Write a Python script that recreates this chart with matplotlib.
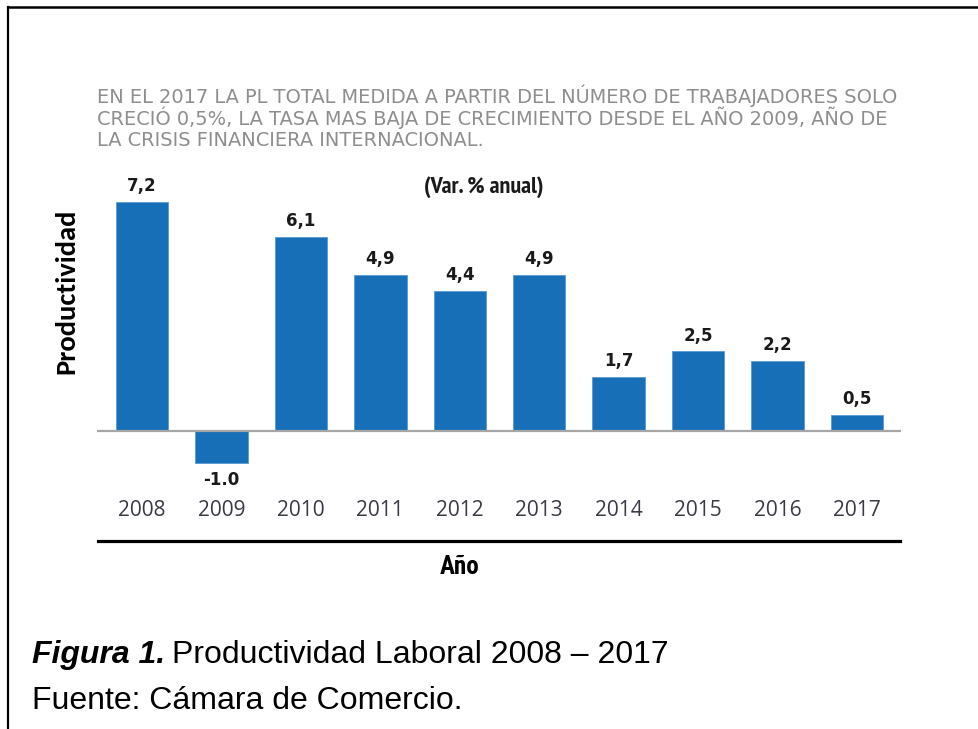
import matplotlib.pyplot as plt
from matplotlib.lines import Line2D

YEARS = ["2008", "2009", "2010", "2011", "2012", "2013", "2014", "2015", "2016", "2017"]
VALUES = [7.2, -1.0, 6.1, 4.9, 4.4, 4.9, 1.7, 2.5, 2.2, 0.5]
VALUE_LABELS = ["7,2", "-1.0", "6,1", "4,9", "4,4", "4,9", "1,7", "2,5", "2,2", "0,5"]

SUBTITLE_LINES = [
    "EN EL 2017 LA PL TOTAL MEDIDA A PARTIR DEL NÚMERO DE TRABAJADORES SOLO",
    "CRECIÓ 0,5%, LA TASA MAS BAJA DE CRECIMIENTO DESDE EL AÑO 2009, AÑO DE",
    "LA CRISIS FINANCIERA INTERNACIONAL.",
]

BLUE = "#166fb7"
INK = "#1a1a1a"
SUB_GRAY = "#8e8e8e"
YEAR_GRAY = "#3a3a44"
BASE_GRAY = "#a6a6a6"

W, H = 979, 729
fig = plt.figure(figsize=(W / 100, H / 100), dpi=100)
fig.patch.set_facecolor("white")


def fx(px):
    return px / W


def fy(py):
    return 1 - py / H


def fit_width(txt, width_px):
    # rescale a text so its rendered width matches width_px
    fig.canvas.draw()
    w = txt.get_window_extent().width
    txt.set_fontsize(txt.get_fontsize() * width_px / w)


# plot area in pixel terms: baseline x 97..901, axes y 180..480
ax = fig.add_axes([fx(97), fy(480), fx(901) - fx(97), (480 - 180) / H])
x = list(range(len(YEARS)))
ax.bar(x, VALUES, width=0.66, color=BLUE, edgecolor="#5b9ad2", linewidth=0.6, zorder=2)
ax.axhline(0, color=BASE_GRAY, linewidth=1.6, zorder=3)
ax.set_xlim(-0.567, 9.554)
ax.set_ylim(-1.541, 7.893)
ax.axis("off")

for xi, v, lab in zip(x, VALUES, VALUE_LABELS):
    off = 5 if v >= 0 else -6
    ax.annotate(lab, (xi, v), textcoords="offset points", xytext=(0, off),
                ha="center", va="bottom" if v >= 0 else "top",
                fontsize=12, fontweight="bold", color=INK, family="DejaVu Sans")

# year labels sit below the plot area, aligned on the bar centres
for xi, yr in zip(x, YEARS):
    ax.annotate(yr, (xi, fy(510)), xycoords=("data", "figure fraction"),
                ha="center", va="center", fontsize=15, color=YEAR_GRAY,
                family=["Open Sans", "DejaVu Sans"], annotation_clip=False)

for i, line in enumerate(SUBTITLE_LINES):
    t = fig.text(fx(97), fy(96 + 22 * i), line, ha="left", va="center", fontsize=14,
                 color=SUB_GRAY, family="DejaVu Sans")
    if i == 0:
        fit_width(t, 800)
        sub_size = t.get_fontsize()
    else:
        t.set_fontsize(sub_size)

var = fig.text(fx(484), fy(187), "(Var. % anual)", ha="center", va="center", fontsize=12,
               fontweight="bold", color=INK, family=["PT Sans Narrow", "DejaVu Sans"])
fit_width(var, 120)

fig.text(fx(66), fy(291), "Productividad", rotation=90, ha="center", va="center",
         fontsize=20.5, fontweight="bold", color="black", family=["Carlito", "DejaVu Sans"])
fig.text(fx(460), fy(567), "Año", ha="center", va="center",
         fontsize=18, fontweight="bold", color="black",
         family=["Roboto Condensed", "DejaVu Sans"])

fig.add_artist(Line2D([fx(98), fx(900)], [fy(541), fy(541)], color="black", linewidth=2.3))

# frame: top and left only
fig.add_artist(Line2D([fx(8), 1.0], [fy(7), fy(7)], color="black", linewidth=1.8))
fig.add_artist(Line2D([fx(8), fx(8)], [fy(7), 0.0], color="black", linewidth=1.6))

cap = fig.text(fx(32), fy(655), "Figura 1.", ha="left", va="center", fontsize=23,
               fontweight="bold", style="italic", color="black", family="Liberation Sans")
fig.canvas.draw()
bb = cap.get_window_extent()
fig.text((bb.x1 + 7) / W, fy(655), "Productividad Laboral 2008 – 2017", ha="left",
         va="center", fontsize=23, color="black", family="Liberation Sans")
fig.text(fx(32), fy(701), "Fuente: Cámara de Comercio.", ha="left", va="center",
         fontsize=23, color="black", family="Liberation Sans")

fig.savefig("out.png", dpi=100)
